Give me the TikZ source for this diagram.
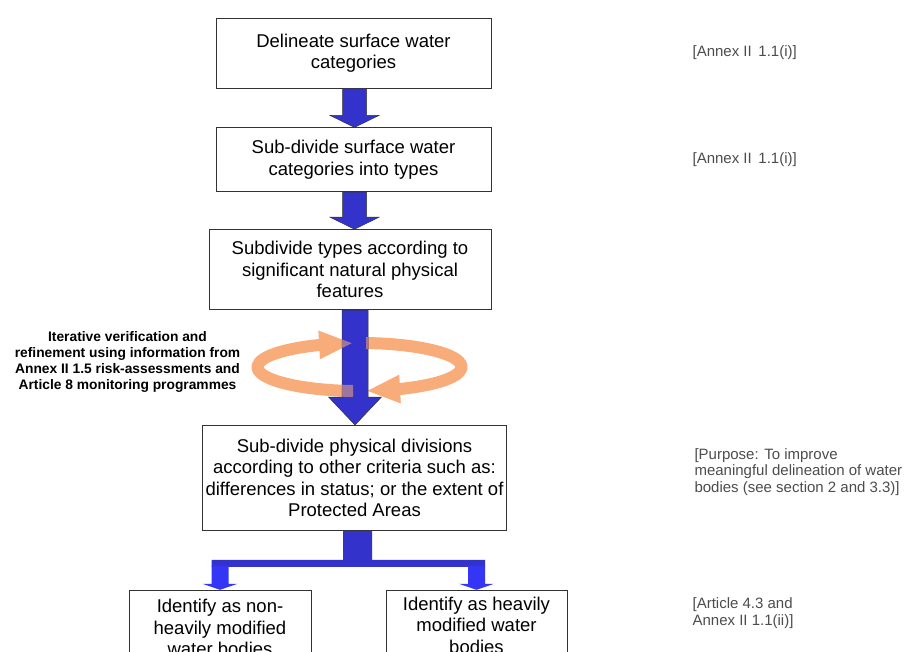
\documentclass[tikz,border=0pt]{standalone}
\usepackage{fontspec}
\setmainfont{Liberation Sans}
\usetikzlibrary{ % tikz packages
    positioning,calc,
    arrows.meta,bending
}
\definecolor{flowblue}{RGB}{51,51,204}
\definecolor{branchblue}{RGB}{53,53,245}
\definecolor{ringorange}{RGB}{248,172,122}
\tikzset{stepbox/.style={
    draw=black!80,
    line width=0.8pt,
    align=center,
    inner xsep=3pt,
    font=\fontsize{18.5}{21.5}\selectfont
}}
\tikzset{blockarrow/.style={fill=flowblue, draw=black!80, line width=0.5pt}}
\tikzset{ring/.style={ringorange, line width=12pt, -{Triangle[length=34pt,width=26pt]}}}
\tikzset{refnote/.style={text=black!70, align=left, inner sep=0pt, font=\fontsize{15}{16.5}\selectfont}}
\tikzset{iternote/.style={align=center, inner sep=0pt, font=\bfseries\fontsize{13.8}{16}\selectfont}}
% down arrow: [style]{from}{to}{half shaft}{half head}{head length}
\newcommand{\downArrow}[6][]{%
    \path[blockarrow,#1] let \p1=(#2), \p2=(#3) in
        (\x1-#4,\y1) -- (\x1-#4,\y2+#6) -- (\x1-#5,\y2+#6) -- (\x1,\y2)
        -- (\x1+#5,\y2+#6) -- (\x1+#4,\y2+#6) -- (\x1+#4,\y1) -- cycle;
}
\newcommand{\iterRing}[1]{%
    \draw[ring,#1] (353.1,-391) arc[start angle=266.4, end angle=93.6, x radius=102, y radius=24];
    \draw[ring,#1] (366.1,-343) arc[start angle=86.3, end angle=-86.3, x radius=102, y radius=24];
}

\begin{document}
\begin{tikzpicture}[x=1pt,y=1pt]
        \useasboundingbox (0,0) rectangle (908,-651);
        \clip (0,0) rectangle (908,-651);

        \node[stepbox, minimum width=275pt, minimum height=70pt] (box1) at (353.5,-53)
            {Delineate surface water\\categories};
        \node[stepbox, minimum width=275pt, minimum height=64pt] (box2) [below=39pt of box1]
            {Sub-divide surface water\\categories into types};
        \node[stepbox, minimum width=282pt, minimum height=80pt] (box3) [below=37pt of box2, xshift=-3.5pt]
            {Subdivide types according to\\significant natural physical\\features};
        \node[stepbox, minimum width=300pt, minimum height=105pt] (box4) [below=115pt of box3, xshift=4.5pt]
            {Sub-divide physical divisions\\according to other criteria such as:\\differences in status; or the extent of\\Protected Areas};
        \node[stepbox, minimum width=182pt, minimum height=75pt] (box5) [below=59pt of box4, xshift=-134.5pt]
            {Identify as non-\\heavily modified\\water bodies};
        \node[stepbox, minimum width=181pt, minimum height=70pt] (box6) [below=59pt of box4, xshift=122pt]
            {Identify as heavily\\modified water\\bodies};

        \node[refnote, right=201pt of box1] (note1) {[Annex II\, 1.1(i)]};
        \node[refnote, right=201pt of box2] (note2) {[Annex II\, 1.1(i)]};
        \node[refnote, right=187.5pt of box4, yshift=6pt] (note3)
            {[Purpose: To improve\\meaningful delineation of water\\bodies (see section 2 and 3.3)]};
        \node[refnote, right=125pt of box6, yshift=12pt] (note4)
            {[Article 4.3 and\\Annex II 1.1(ii)]};

        \node[iternote] (iter) at (127.5,-362)
            {Iterative verification and\\refinement using information from\\Annex II 1.5 risk-assessments and\\Article 8 monitoring programmes};

        \downArrow{$(box1.south)+(1,0)$}{box2.north}{12}{24.5}{12}
        \downArrow{$(box2.south)+(1,0)$}{box3.north}{12}{24.5}{12}

        % iteration loop round the third arrow
        \iterRing{}
        \downArrow{$(box3.south)+(5,0)$}{box4.north}{13}{26.5}{28}
        \begin{scope}
            \clip (342,-308) rectangle (368,-423);
            \iterRing{opacity=0.55}
        \end{scope}

        % branch to the two outcomes
        \path[fill=flowblue] let \p1=($(box4.south)+(3,0)$), \p2=(box5.north), \p3=(box6.north) in
            (\x1-14.5,\y1) -- (\x1-14.5,\y1-29) -- (\x2-8.5,\y1-29) -- (\x2-8.5,\y1-36)
            -- (\x3+8.5,\y1-36) -- (\x3+8.5,\y1-29) -- (\x1+14.5,\y1-29) -- (\x1+14.5,\y1) -- cycle;
        \downArrow[fill=branchblue, draw=none]{$(box5.north)+(0,24)$}{box5.north}{8.5}{17.5}{6}
        \downArrow[fill=branchblue, draw=none]{$(box6.north)+(0,24)$}{box6.north}{8.5}{17.5}{6}
\end{tikzpicture}
\end{document}
